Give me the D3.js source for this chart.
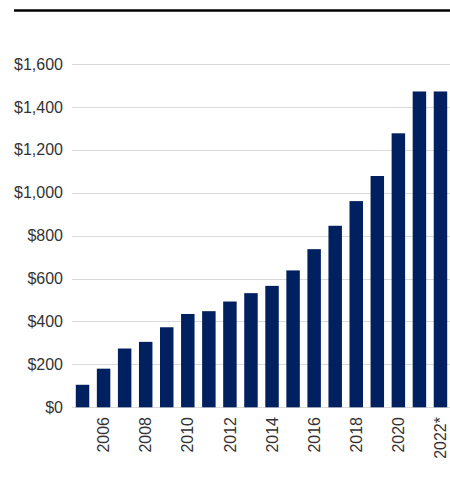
<!DOCTYPE html>
<html>
<head>
<meta charset="utf-8">
<script src="https://cdn.jsdelivr.net/npm/d3@7"></script>
<style>
  body { margin: 0; background: #fff; }
  svg { display: block; }
</style>
</head>
<body>
<script>
// chart data
const years = ["2005", "2006", "2007", "2008", "2009", "2010", "2011", "2012", "2013",
               "2014", "2015", "2016", "2017", "2018", "2019", "2020", "2021", "2022*"];
const values = [105, 180, 274, 305, 373, 435, 448, 493, 532,
                566, 638, 737, 846, 961, 1078, 1277, 1472, 1472];
const yTicks = [0, 200, 400, 600, 800, 1000, 1200, 1400, 1600];
const labelYears = ["2006", "2008", "2010", "2012", "2014", "2016", "2018", "2020", "2022*"];

const width = 450, height = 485;
const fontFam = "'Liberation Sans Narrow', 'Arial Narrow', sans-serif";

const svg = d3.select('body').append('svg')
    .attr('width', width)
    .attr('height', height);

// top rule
svg.append('line')
    .attr('x1', 14).attr('x2', 450)
    .attr('y1', 10.5).attr('y2', 10.5)
    .attr('stroke', '#000')
    .attr('stroke-width', 2.6);

// scales
var x = d3.scaleBand()
    .domain(years)
    .range([72, 451])
    .paddingInner(0.36)
    .paddingOuter(0.18);

var y = d3.scaleLinear()
    .domain([0, 1600])
    .range([407.3, 64]);

// gridlines
svg.append('g')
    .selectAll('line')
    .data(yTicks)
    .enter()
    .append('line')
    .attr('x1', 72)
    .attr('x2', 450)
    .attr('y1', d => Math.round(y(d)) + 0.5)
    .attr('y2', d => Math.round(y(d)) + 0.5)
    .attr('stroke', '#d9d9d9')
    .attr('stroke-width', 1.2);

// Y axis labels
svg.append('g')
    .selectAll('text')
    .data(yTicks)
    .enter()
    .append('text')
    .attr('x', 63)
    .attr('y', d => y(d))
    .attr('dy', '0.35em')
    .attr('text-anchor', 'end')
    .style('font-family', fontFam)
    .style('font-size', '16px')
    .style('fill', '#333')
    .text(d => '$' + d3.format(',')(d));

// bars
svg.append('g')
    .selectAll('rect')
    .data(values)
    .enter()
    .append('rect')
    .attr('x', (d, i) => x(years[i]))
    .attr('y', d => y(d))
    .attr('width', x.bandwidth())
    .attr('height', d => y(0) - y(d))
    .style('fill', '#002060');

// X axis labels (rotated)
svg.append('g')
    .selectAll('text')
    .data(labelYears)
    .enter()
    .append('text')
    .attr('transform', d => `translate(${x(d) + x.bandwidth() / 2}, 417) rotate(-90)`)
    .attr('dy', '0.35em')
    .attr('text-anchor', 'end')
    .style('font-family', fontFam)
    .style('font-size', '16px')
    .style('fill', '#333')
    .text(d => d);
</script>
</body>
</html>
